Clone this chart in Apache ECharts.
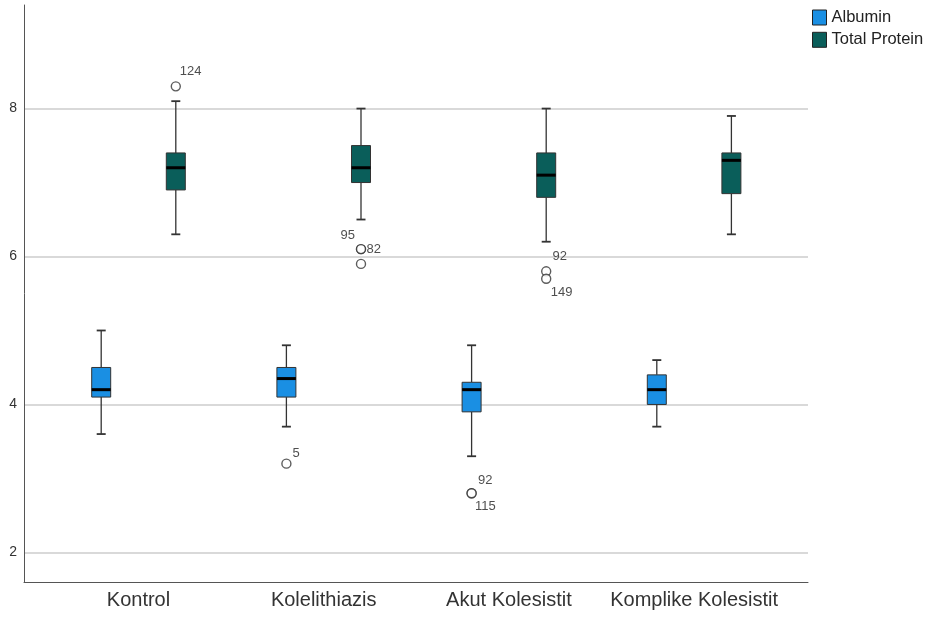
<!DOCTYPE html>
<html>
<head>
<meta charset="utf-8">
<script src="https://cdn.jsdelivr.net/npm/echarts@6/dist/echarts.min.js"></script>
<style>html,body{margin:0;padding:0;background:#fff}#chart{width:929px;height:617px}</style>
</head>
<body>
<div id="chart"></div>
<script>
// Groups on the category axis
const categories = ['Kontrol', 'Kolelithiazis', 'Akut Kolesistit', 'Komplike Kolesistit'];

// Five-number summaries per group: [min, Q1, median, Q3, max]
const albuminStats = [
  [3.6, 4.1, 4.2, 4.5, 5.0],
  [3.7, 4.1, 4.35, 4.5, 4.8],
  [3.3, 3.9, 4.2, 4.3, 4.8],
  [3.7, 4.0, 4.2, 4.4, 4.6]
];
const proteinStats = [
  [6.3, 6.9, 7.2, 7.4, 8.1],
  [6.5, 7.0, 7.2, 7.5, 8.0],
  [6.2, 6.8, 7.1, 7.4, 8.0],
  [6.3, 6.85, 7.3, 7.4, 7.9]
];

// Outlying cases: [group index, value, case number]
const albuminOutliers = [[1, 3.2, '5'], [2, 2.8, '92'], [2, 2.8, '115']];
const proteinOutliers = [[0, 8.3, '124'], [1, 6.1, '95'], [1, 6.1, '82'], [1, 5.9, ''], [2, 5.8, '92'], [2, 5.7, '149']];

// Value axis ticks
const yTicks = [2, 4, 6, 8];

// ---- styling / layout ----
const Y_MIN = 1.6, Y_MAX = 9.4;
const SHIFT = 37.3;       // horizontal distance of each box from its group centre
const BOX_W = 19, CAP_W = 9;
const ALBUMIN_COLOR = '#1a8fe3';
const PROTEIN_COLOR = '#0a5e5a';
const INK = '#333333';
// case-number label offsets (px from the circle centre), same order as the outlier lists
const albuminLabelPos = [[6, -10], [6.5, -13], [3.5, 13.5]];
const proteinLabelPos = [[4, -15], [-20.5, -14], [5.5, 0], [0, 0], [6.3, -15], [4.5, 13.5]];

function boxRenderer(shift, fill) {
  return function (params, api) {
    const c = api.value(0);
    const pt = v => api.coord([c, v]);
    const x = pt(api.value(3))[0] + shift;
    const yMin = pt(api.value(1))[1];
    const yQ1 = pt(api.value(2))[1];
    const yMed = pt(api.value(3))[1];
    const yQ3 = pt(api.value(4))[1];
    const yMax = pt(api.value(5))[1];
    const hb = BOX_W / 2, hc = CAP_W / 2;
    const thin = { stroke: INK, lineWidth: 1.3 };
    const capStyle = { stroke: INK, lineWidth: 1.8 };
    return {
      type: 'group',
      children: [
        { type: 'line', shape: { x1: x, y1: yMax, x2: x, y2: yQ3 }, style: thin },
        { type: 'line', shape: { x1: x, y1: yQ1, x2: x, y2: yMin }, style: thin },
        { type: 'line', shape: { x1: x - hc, y1: yMax, x2: x + hc, y2: yMax }, style: capStyle },
        { type: 'line', shape: { x1: x - hc, y1: yMin, x2: x + hc, y2: yMin }, style: capStyle },
        { type: 'rect', shape: { x: x - hb, y: yQ3, width: BOX_W, height: yQ1 - yQ3 },
          style: { fill: fill, stroke: INK, lineWidth: 1 } },
        { type: 'line', shape: { x1: x - hb, y1: yMed, x2: x + hb, y2: yMed },
          style: { stroke: '#000', lineWidth: 3 } }
      ]
    };
  };
}

function outlierData(list, labelPos) {
  return list.map((o, i) => ({
    value: [o[0], o[1]],
    label: {
      show: o[2] !== '',
      formatter: o[2],
      position: 'inside',
      align: 'left',
      verticalAlign: 'middle',
      offset: labelPos[i]
    }
  }));
}

function outlierSeries(name, list, labelPos, shift) {
  return {
    name: name,
    type: 'scatter',
    xAxisIndex: 1, yAxisIndex: 1,
    symbol: 'circle',
    symbolSize: 9,
    symbolOffset: [shift, 0],
    itemStyle: { color: '#fff', borderColor: INK, borderWidth: 1.4 },
    label: { color: '#222', fontSize: 13, fontFamily: 'Liberation Sans, Arial, sans-serif' },
    emphasis: { disabled: true },
    z: 5,
    data: outlierData(list, labelPos)
  };
}

const chart = echarts.init(document.getElementById('chart'), null, { renderer: 'canvas' });
chart.setOption({
  animation: false,
  backgroundColor: '#fff',
  textStyle: { fontFamily: 'Liberation Sans, Arial, sans-serif' },
  legend: {
    orient: 'vertical',
    left: 812, top: 9,
    padding: 0,
    itemWidth: 14, itemHeight: 15, itemGap: 5.3,
    selectedMode: false,
    icon: 'rect',
    itemStyle: { borderColor: '#222', borderWidth: 1 },
    textStyle: { fontSize: 16.5, lineHeight: 15, color: '#222', fontFamily: 'Liberation Sans, Arial, sans-serif' },
    data: ['Albumin', 'Total Protein']
  },
  grid: [
    { left: 24, right: 121, top: 5, bottom: 35 },
    { left: 45.9, right: 142.3, top: 5, bottom: 35 }
  ],
  xAxis: [
    {
      type: 'category', gridIndex: 0, data: categories,
      axisLine: { show: true, lineStyle: { color: '#555', width: 1 } },
      axisTick: { show: false }, axisLabel: { show: false }, splitLine: { show: false }
    },
    {
      type: 'category', gridIndex: 1, data: categories,
      axisLine: { show: false }, axisTick: { show: false },
      axisLabel: { interval: 0, fontSize: 20, color: '#333', margin: 8 },
      splitLine: { show: false }
    }
  ],
  yAxis: [
    {
      type: 'value', gridIndex: 0, min: Y_MIN, max: Y_MAX,
      axisLine: { show: true, lineStyle: { color: '#555', width: 1 } },
      axisTick: { show: false, customValues: yTicks },
      axisLabel: { customValues: yTicks, fontSize: 14, color: '#333', margin: 7 },
      splitLine: { show: true, lineStyle: { color: '#cccccc', width: 1.6 } }
    },
    { type: 'value', gridIndex: 1, min: Y_MIN, max: Y_MAX, show: false }
  ],
  series: [
    {
      name: 'Albumin', type: 'custom', xAxisIndex: 1, yAxisIndex: 1,
      itemStyle: { color: ALBUMIN_COLOR },
      encode: { x: 0, y: [1, 2, 3, 4, 5] },
      renderItem: boxRenderer(-SHIFT, ALBUMIN_COLOR),
      data: albuminStats.map((s, i) => [i].concat(s)),
      z: 3
    },
    {
      name: 'Total Protein', type: 'custom', xAxisIndex: 1, yAxisIndex: 1,
      itemStyle: { color: PROTEIN_COLOR },
      encode: { x: 0, y: [1, 2, 3, 4, 5] },
      renderItem: boxRenderer(SHIFT, PROTEIN_COLOR),
      data: proteinStats.map((s, i) => [i].concat(s)),
      z: 3
    },
    outlierSeries('Albumin cases', albuminOutliers, albuminLabelPos, -SHIFT),
    outlierSeries('Total Protein cases', proteinOutliers, proteinLabelPos, SHIFT)
  ]
});
</script>
</body>
</html>
